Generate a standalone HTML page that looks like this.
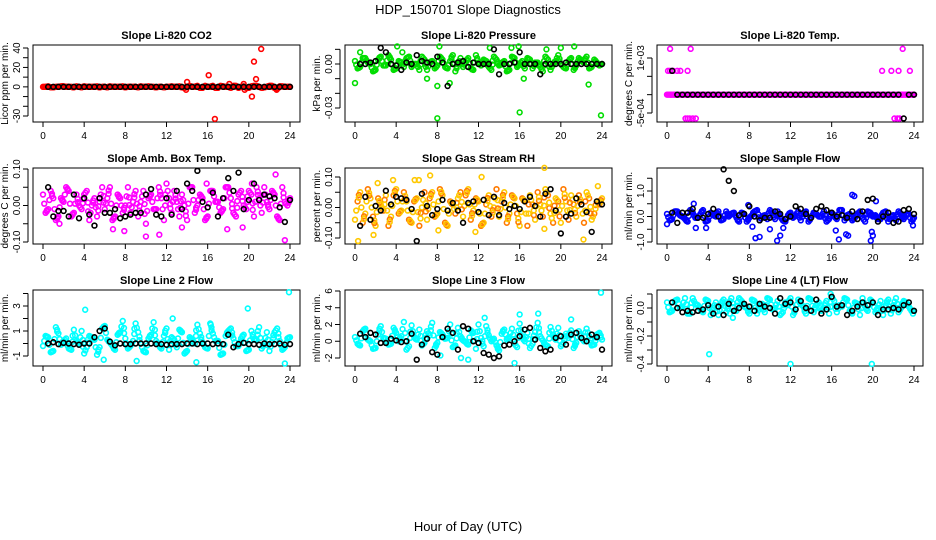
<!DOCTYPE html>
<html><head><meta charset="utf-8"><style>
html,body{margin:0;padding:0;background:#fff;}
svg{display:block;font-family:"Liberation Sans",sans-serif;}
</style></head><body>
<svg id="chart" width="936" height="540" viewBox="0 0 936 540" xmlns="http://www.w3.org/2000/svg">
<text x="468" y="14" text-anchor="middle" font-size="13">HDP_150701  Slope Diagnostics</text>
<text x="468" y="531" text-anchor="middle" font-size="13">Hour of Day (UTC)</text>
</svg>
<script>
// ---- data ----
const z49=[0,0,0,0,0,0,0,0,0,0,0,0,0,0,0,0,0,0,0,0,0,0,0,0,0,0,0,0,0,0,0,0,0,0,0,0,0,0,0,0,0,0,0,0,0,0,0,0,0];
const co2Main=[0,0.5,-0.5,0,0.5,0,-0.5,0,0.5,0,0,-0.5,0,0.5,0,0,-0.5,0,0,0.5,0,0,-0.5,0,0,0.5,0,-0.5,0,0,1,-1,0,1,-1,0.5,0,1,-1,0.5,-1,1,0,-0.5,1,-1,0.5,0,0];
const co2Alt=[0,-0.5,0,0.5,0,0,0.5,-0.5,0,0,0.5,0,-0.5,0,0,0.5,0,0,-0.5,0,0.5,0,0,-0.5,0,0,0.5,-1,1,0,-1,1,0,-1,1,0,-1,1,0,-1,0.5,1,-1,0,1,-2,0.5,0];
const co2OutT=[13.9,14.0,16.1,16.7,18.1,19.5,19.6,20.3,20.5,20.7,21.2,22.7];
const co2OutV=[-3,5,12,-33,3,3,-3,-10,26,8,39,-3];
const co2Black=z49.slice(1);

const presMain=[0.002,-0.002,0.004,0.000,-0.004,0.005,-0.001,0.003,-0.003,0.001,0.004,-0.002,0.000,0.005,-0.004,0.002,-0.001,0.003,-0.003,0.006,0.000,-0.002,0.004,-0.004,0.001,0.003,-0.002,0.005,-0.001,0.002,-0.004,0.004,0.000,-0.003,0.003,0.001,-0.002,0.005,-0.004,0.002,0.000,-0.003,0.004,-0.001,0.002,0.005,-0.002,0.001,0.000];
const presAlt=[-0.003,0.004,0.001,-0.005,0.003,-0.001,0.006,-0.004,0.002,-0.002,0.005,0.000,-0.004,0.003,0.001,-0.003,0.005,-0.002,0.002,-0.005,0.004,0.001,-0.003,0.006,-0.001,0.002,-0.004,0.003,0.000,-0.005,0.005,-0.002,0.002,0.004,-0.003,0.001,-0.005,0.003,0.000,0.006,-0.002,0.002,-0.004,0.004,0.001,-0.003,0.003,-0.001];
const presOutT=[0,0.5,4.1,4.6,7.0,8.0,8.0,8.2,9.2,13.1,15.2,15.9,16.0,16.4,18.6,20.0,21.3,22.7,23.9];
const presOutV=[-0.013,0.008,0.012,0.008,-0.010,-0.015,-0.037,0.012,-0.013,0.011,0.011,0.012,-0.033,-0.010,0.010,0.011,0.012,-0.014,-0.035];
const presBlack=[0.000,0.000,0.001,0.002,0.011,0.008,0.000,-0.001,-0.004,0.001,0.000,0.006,0.002,0.001,0.000,0.005,0.001,-0.015,0.000,0.001,0.002,-0.002,0.001,0.000,0.000,0.000,0.010,-0.007,0.000,0.000,0.001,0.008,0.000,0.000,0.000,-0.007,0.000,0.000,0.000,0.000,0.001,0.000,0.000,0.000,0.000,0.000,0.000,0.000];

const tempOutT=[0.3,2.3,22.9,0.1,0.3,0.6,1.0,1.3,2.0,20.9,21.8,22.5,23.6,1.8,2.0,2.2,2.5,2.8,22.1,22.4,22.6];
const tempOutV=[0.00125,0.00125,0.00125,0.00065,0.00065,0.00065,0.00065,0.00065,0.00065,0.00065,0.00065,0.00065,0.00065,-0.00065,-0.00065,-0.00065,-0.00065,-0.00065,-0.00065,-0.00065,-0.00065];
const tempBlack=[0.00065,0,0,0,0,0,0,0,0,0,0,0,0,0,0,0,0,0,0,0,0,0,0,0,0,0,0,0,0,0,0,0,0,0,0,0,0,0,0,0,0,0,0,0,0,-0.00065,0,0];

const boxMain=[0.03,-0.01,0.02,-0.03,0.01,0.04,-0.02,0.00,0.03,-0.04,0.02,0.01,-0.01,0.05,-0.03,0.02,0.00,-0.02,0.04,0.01,-0.05,0.03,-0.01,0.02,0.06,-0.02,0.01,0.03,-0.04,0.05,0.00,0.02,-0.03,0.04,0.01,-0.01,0.05,-0.02,0.03,0.00,0.04,-0.03,0.02,0.05,-0.01,0.03,-0.04,0.01,0.02];
const boxAlt=[-0.02,0.04,-0.04,0.02,0.05,-0.03,0.03,-0.01,0.04,0.00,-0.03,0.05,0.02,-0.04,0.03,-0.02,0.05,0.01,-0.03,0.04,0.02,-0.01,0.05,-0.04,0.02,0.04,-0.03,0.00,0.05,-0.02,0.03,-0.04,0.04,0.01,-0.02,0.05,0.02,-0.03,0.04,-0.01,0.03,0.05,-0.02,0.01,0.04,-0.03,0.05,0.00];
const boxOutT=[1.6,6.8,7.9,10,11.3,13.5,15.9,17.9,19.4,20.3,22.6,23.5];
const boxOutV=[-0.05,-0.065,-0.07,-0.085,-0.08,-0.06,0.06,-0.065,-0.06,0.06,0.085,-0.095];
const boxBlack=[0.05,-0.03,-0.015,-0.015,-0.03,0.03,-0.035,0.02,-0.025,-0.055,0.02,-0.02,-0.02,-0.01,-0.035,-0.03,-0.025,-0.02,-0.02,0.03,0.045,-0.025,-0.03,0.02,-0.025,0.04,-0.01,0.06,0.04,0.095,0.01,-0.005,0.035,-0.03,0.02,0.075,0.04,0.09,-0.01,0.015,0.06,0.015,0.03,0.025,0.02,-0.005,-0.045,0.015];

const rhMain=[-0.04,0.05,-0.02,0.03,-0.06,0.01,0.04,-0.03,0.06,-0.01,0.02,-0.05,0.03,0.00,-0.04,0.05,-0.02,0.04,-0.06,0.01,0.03,-0.03,0.06,-0.01,0.02,-0.05,0.04,0.00,-0.03,0.05,-0.02,0.03,-0.06,0.02,0.04,-0.04,0.01,0.06,-0.02,0.03,-0.05,0.02,0.04,-0.03,0.01,0.05,-0.04,0.02,0.03];
const rhAlt=[0.02,-0.05,0.06,-0.03,0.03,-0.01,-0.06,0.04,-0.02,0.05,-0.04,0.02,-0.06,0.05,0.03,-0.03,0.06,-0.05,0.02,-0.02,0.05,0.04,-0.04,0.03,-0.06,0.01,-0.03,0.06,0.02,-0.05,0.04,-0.02,0.03,-0.06,0.01,0.05,-0.03,0.04,-0.05,0.02,0.06,-0.04,0.01,0.04,-0.05,0.03,-0.02,0.01];
const rhOutT=[0.3,1.8,2.2,3.7,5.8,6.2,7.3,8.1,11.7,12.3,18.4,18.4,22.2,23.6];
const rhOutV=[-0.11,-0.09,0.08,0.09,0.09,0.09,0.105,-0.075,-0.08,0.1,0.13,-0.07,-0.105,0.07];
const rhBlack=[-0.06,0.035,-0.04,0.005,-0.01,0.055,0.01,0.035,0.03,0.025,-0.005,-0.11,0.045,0.005,-0.025,-0.005,0.025,-0.01,0.015,-0.01,-0.05,0.015,0.02,-0.015,0.025,-0.025,0.035,-0.025,0.015,-0.005,0.005,-0.005,0.02,0.035,0.005,-0.03,0.045,0.06,-0.01,-0.085,-0.03,-0.02,0.03,0.01,-0.015,-0.08,0.02,0.01];

const sfMain=[0.1,-0.1,0.2,0.0,-0.2,0.15,-0.05,0.25,-0.15,0.05,0.2,-0.1,0.0,0.15,-0.2,0.1,-0.05,0.2,-0.15,0.05,0.25,-0.1,0.0,-0.2,0.15,0.05,-0.15,0.2,-0.05,0.1,0.0,-0.2,0.15,-0.1,0.25,0.05,-0.15,0.1,-0.05,0.2,0.0,-0.1,0.15,-0.2,0.05,0.2,-0.1,0.1,-0.05];
const sfAlt=[-0.15,0.2,0.05,-0.1,0.25,-0.05,0.1,-0.2,0.15,0.0,-0.15,0.2,0.1,-0.05,0.15,-0.2,0.05,0.25,0.0,-0.1,0.15,0.2,-0.15,0.05,-0.05,0.2,0.1,-0.2,0.15,0.0,0.2,-0.1,0.05,0.25,-0.15,0.1,-0.05,0.2,-0.2,0.15,0.05,-0.1,0.2,0.0,-0.15,0.1,0.05,-0.2];
const sfOutT=[0,2.6,2.8,3.8,7.9,8.3,8.6,9.0,10.0,10.7,11.0,11.3,16.4,16.7,17.4,17.6,18.0,18.2,19.8,19.9,20.0,20.3,23.9];
const sfOutV=[-0.3,0.5,-0.45,-0.45,0.45,-0.4,-0.85,-0.8,-0.5,-0.95,-0.75,-0.45,-0.55,-0.9,-0.7,-0.75,0.85,0.8,-0.95,-0.6,-0.75,0.6,-0.35];
const sfBlack=[0.15,-0.25,0.15,0.15,0.3,-0.05,-0.05,0.1,0.3,0.0,1.85,1.4,1.0,0.05,0.1,0.4,0.0,-0.15,-0.05,-0.05,0.2,0.1,-0.1,0.0,0.4,0.3,0.1,-0.05,0.3,0.4,0.25,0.15,0.0,0.05,-0.05,0.2,-0.1,0.2,0.65,0.7,-0.2,0.0,0.15,-0.25,-0.2,0.25,0.3,0.1];

const l2Main=[-0.2,0.5,-0.6,0.8,0.2,-0.4,1.1,0.0,-0.8,0.6,0.3,-0.3,1.4,0.1,-0.5,0.9,0.4,-0.2,1.6,0.0,-0.7,0.7,0.2,-0.4,1.2,0.5,-0.3,0.9,-0.6,0.3,1.5,0.1,-0.4,0.8,0.2,-0.8,1.0,0.4,-0.2,0.7,-0.5,0.3,1.3,0.0,-0.6,0.9,0.2,-0.3,0.5];
const l2Alt=[0.6,-0.7,1.3,-0.1,0.4,-0.5,0.2,1.0,-0.3,0.5,-0.9,1.2,0.3,-0.2,0.7,1.8,-0.4,0.2,0.9,-0.6,0.4,1.7,-0.1,0.6,-0.5,0.3,1.1,-0.8,0.5,0.0,0.8,-0.3,1.6,0.2,-0.9,0.6,1.2,-0.2,0.4,-0.6,1.0,0.3,-0.4,0.9,0.1,1.2,-0.5,0.4];
const l2OutT=[4.1,5.9,9.1,12.6,14.9,16.3,19.9,23.5,23.9];
const l2OutV=[2.7,-1.3,-1.4,2.0,-1.5,1.5,2.8,-1.6,4.1];
const l2Black=[0.0,0.1,-0.05,0.05,0.0,-0.05,-0.1,0.0,0.0,0.5,1.0,1.2,0.15,-0.15,0.0,-0.05,-0.05,0.0,0.0,0.0,0.0,-0.05,-0.05,-0.1,-0.05,-0.05,-0.05,0.0,0.0,-0.05,0.0,0.0,-0.05,0.0,-0.05,0.7,-0.3,-0.05,0.05,-0.05,-0.05,-0.1,0.0,-0.05,-0.05,0.0,-0.1,-0.05];

const l3Main=[0.5,-0.5,1.5,0.0,-0.8,1.8,0.3,-0.3,1.0,0.6,-1.0,1.9,0.2,-0.5,1.2,2.2,-0.2,0.8,0.4,-0.7,1.6,0.1,-0.4,1.0,2.0,-0.6,0.7,0.3,-1.1,1.4,0.5,-0.3,2.1,0.0,-0.8,1.1,0.6,-0.4,1.7,0.2,-0.6,0.9,1.3,-0.2,0.4,1.5,-0.5,0.8,0.2];
const l3Alt=[-0.3,1.2,0.2,-0.9,0.8,0.4,-0.4,1.6,0.0,2.3,-0.6,0.5,1.4,-0.2,0.7,-0.8,1.1,0.3,2.0,-0.5,0.6,-0.1,1.3,-0.9,0.4,1.8,0.0,-0.5,0.9,0.2,1.5,-0.7,0.6,1.0,-0.3,2.2,0.1,-0.6,0.8,1.6,-0.2,0.4,-0.8,1.2,0.0,0.6,-0.4,1.0];
const l3OutT=[8.3,10.3,11.0,12.6,15.5,16.0,17.8,21.0,23.9];
const l3OutV=[-1.7,-2.0,-2.2,2.8,-2.6,3.2,3.3,2.6,5.8];
const l3Black=[0.9,0.5,1.0,0.8,-0.2,-0.2,0.3,0.1,-0.1,0.0,0.9,-2.2,-0.4,0.3,-1.3,-1.6,0.5,1.5,1.0,-1.0,1.8,1.5,0.0,-0.2,-1.4,-1.6,-2.0,-1.8,-0.5,-0.4,0.0,0.6,1.4,1.6,0.2,-0.8,-1.2,-1.0,0.4,0.6,-0.4,0.8,1.0,0.4,0.0,0.8,0.5,-1.0];

const l4Main=[0.04,-0.02,0.06,0.01,-0.04,0.07,0.02,-0.03,0.05,0.00,-0.05,0.06,0.03,-0.02,0.07,0.01,-0.04,0.05,0.02,-0.03,0.06,0.00,-0.05,0.04,0.07,-0.01,0.03,-0.04,0.06,0.02,-0.02,0.05,0.08,-0.03,0.01,0.06,-0.04,0.03,0.07,-0.02,0.04,0.00,-0.05,0.06,0.02,-0.03,0.05,0.01,-0.02];
const l4Alt=[-0.03,0.05,0.00,0.07,-0.04,0.03,-0.01,0.06,-0.05,0.04,0.02,-0.03,0.07,-0.02,0.05,0.00,0.06,-0.04,0.03,0.07,-0.01,0.05,-0.03,0.02,-0.05,0.06,0.01,0.07,-0.03,0.04,0.00,-0.04,0.05,0.02,0.07,-0.02,0.04,-0.05,0.01,0.06,-0.03,0.05,0.02,-0.04,0.07,0.00,0.04,-0.02];
const l4OutT=[4.1,6.1,6.4,12.0,15.9,19.9,23.9];
const l4OutV=[-0.33,-0.04,-0.07,-0.40,0.1,-0.40,-0.04];
const l4Black=[0.04,0.0,-0.03,-0.02,-0.03,-0.02,-0.01,0.02,-0.04,0.01,-0.05,0.03,-0.02,0.0,0.03,0.01,-0.02,0.03,0.01,0.0,-0.04,0.07,0.03,0.04,-0.01,0.05,0.0,-0.02,0.06,-0.04,-0.01,0.08,0.01,0.02,-0.05,-0.02,0.01,0.04,0.02,0.04,-0.05,-0.01,-0.01,0.0,-0.01,0.02,0.04,-0.02];

const xTicks=[0,4,8,12,16,20,24];

// ---- layout ----
const NS="http://www.w3.org/2000/svg";
const svg=document.getElementById('chart');
const cols=[{l:33,r:300,x0:43,x24:290},{l:345,r:612,x0:355,x24:602},{l:657,r:923,x0:667,x24:914}];
const rows=[{t:45,b:122},{t:168,b:244},{t:290,b:366}];
const panels=[
 {key:'co2',title:'Slope Li-820 CO2',ylab:'Licor ppm per min.',c:0,r:0,vA:40,pA:48,vB:-30,pB:116,ticks:[-30,-20,-10,0,10,20,30,40],lbl:{'40':'40','20':'20','0':'0','-30':'-30'},color:'#ff0000',main:co2Main,alt:co2Alt,ot:co2OutT,ov:co2OutV,black:co2Black},
 {key:'pressure',title:'Slope Li-820 Pressure',ylab:'kPa per min.',c:1,r:0,vA:0,pA:64,vB:-0.03,pB:108,ticks:[0.01,0,-0.01,-0.02,-0.03],lbl:{'0':'0.00','-0.03':'-0.03'},color:'#00dd00',main:presMain,alt:presAlt,ot:presOutT,ov:presOutV,black:presBlack},
 {key:'li-temp',title:'Slope Li-820 Temp.',ylab:'degrees C  per min.',c:2,r:0,vA:0.001,pA:58,vB:-0.0005,pB:113,ticks:[0.001,0.0005,0,-0.0005],lbl:{'0.001':'1e-03','-0.0005':'-5e-04'},color:'#ff00ff',main:z49,alt:z49.slice(1),ot:tempOutT,ov:tempOutV,black:tempBlack},
 {key:'amb-box-temp',title:'Slope Amb. Box Temp.',ylab:'degrees C per min.',c:0,r:1,vA:0.1,pA:169,vB:-0.1,pB:242,ticks:[0.1,0.05,0,-0.05,-0.1],lbl:{'0.1':'0.10','0':'0.00','-0.1':'-0.10'},color:'#ff00ff',main:boxMain,alt:boxAlt,ot:boxOutT,ov:boxOutV,black:boxBlack},
 {key:'gas-rh',title:'Slope Gas Stream RH',ylab:'percent per min.',c:1,r:1,vA:0.1,pA:177,vB:-0.1,pB:238,ticks:[0.1,0.05,0,-0.05,-0.1],lbl:{'0.1':'0.10','0':'0.00','-0.1':'-0.10'},color:'#ffc800',color2:'#ff7a00',main:rhMain,alt:rhAlt,ot:rhOutT,ov:rhOutV,black:rhBlack},
 {key:'sample-flow',title:'Slope Sample Flow',ylab:'ml/min per min.',c:2,r:1,vA:1,pA:191,vB:-1,pB:242,ticks:[1.5,1,0.5,0,-0.5,-1],lbl:{'1':'1.0','0':'0.0','-1':'-1.0'},color:'#0000ff',main:sfMain,alt:sfAlt,ot:sfOutT,ov:sfOutV,black:sfBlack},
 {key:'line2-flow',title:'Slope Line 2 Flow',ylab:'ml/min per min.',c:0,r:2,vA:3,pA:306,vB:-1,pB:356,ticks:[4,3,2,1,0,-1],lbl:{'3':'3','1':'1','-1':'-1'},color:'#00ffff',main:l2Main,alt:l2Alt,ot:l2OutT,ov:l2OutV,black:l2Black},
 {key:'line3-flow',title:'Slope Line 3 Flow',ylab:'ml/min per min.',c:1,r:2,vA:6,pA:291,vB:-2,pB:358,ticks:[6,4,2,0,-2],lbl:{'6':'6','4':'4','2':'2','0':'0','-2':'-2'},color:'#00ffff',main:l3Main,alt:l3Alt,ot:l3OutT,ov:l3OutV,black:l3Black},
 {key:'line4-flow',title:'Slope Line 4 (LT) Flow',ylab:'ml/min per min.',c:2,r:2,vA:0,pA:308,vB:-0.4,pB:364,ticks:[0.1,0,-0.1,-0.2,-0.3,-0.4],lbl:{'0':'0.0','-0.2':'-0.2','-0.4':'-0.4'},color:'#00ffff',main:l4Main,alt:l4Alt,ot:l4OutT,ov:l4OutV,black:l4Black}
];

function mk(tag,attrs,parent){const e=document.createElementNS(NS,tag);for(const k in attrs)e.setAttribute(k,attrs[k]);(parent||svg).appendChild(e);return e;}

panels.forEach(p=>{
 const C=cols[p.c],R=rows[p.r];
 const xs=t=>C.x0+(C.x24-C.x0)*t/24;
 const ys=v=>p.pA+(p.pB-p.pA)*(v-p.vA)/(p.vB-p.vA);
 const g=mk('g',{});
 
 
 const ti=mk('text',{x:(C.l+C.r)/2,y:R.t-6,'text-anchor':'middle','font-size':'11','font-weight':'bold'},g);
 ti.textContent=p.title;
 
 
 const bx=mk('rect',{x:C.l,y:R.t,width:C.r-C.l,height:R.b-R.t,fill:'none',stroke:'#000','stroke-width':1},g);
 
 
 const xa=mk('g',{},g);
 
 
 xTicks.forEach(t=>{
  mk('line',{x1:xs(t),x2:xs(t),y1:R.b,y2:R.b+5,stroke:'#000'},xa);
  const tx=mk('text',{x:xs(t),y:R.b+17,'text-anchor':'middle','font-size':'10'},xa);
  tx.textContent=t;
  
  
 });
 const ya=mk('g',{},g);
 
 
 const yv=p.ticks.map(ys);
 mk('line',{x1:C.l-5,x2:C.l-5,y1:Math.min(...yv),y2:Math.max(...yv),stroke:'#000'},ya);
 p.ticks.forEach(v=>{
  const y=ys(v);
  mk('line',{x1:C.l-5,x2:C.l-10,y1:y,y2:y,stroke:'#000'},ya);
  const s=p.lbl[String(v)];
  if(s){
   const tx=mk('text',{x:C.l-13,y:y,'text-anchor':'middle','font-size':'10',transform:`rotate(-90 ${C.l-13} ${y})`},ya);
   tx.textContent=s;
   
   
  }
 });
 const yl=mk('text',{x:C.l-25,y:(R.t+R.b)/2,'text-anchor':'middle','font-size':'10',transform:`rotate(-90 ${C.l-25} ${(R.t+R.b)/2})`},g);
 yl.textContent=p.ylab;
 
 
 const pts=mk('g',{fill:'none','stroke-width':1.6},g);
 
 
 function dot(t,v,col){
  const c=mk('circle',{cx:xs(t),cy:ys(v),r:2.4,stroke:col},pts);
  
  
 }
 p.main.forEach((v,i)=>dot(i*0.5,v,p.color));
 p.alt.forEach((v,i)=>dot(i*0.5+0.25,v,p.color2||p.color));
 p.main.forEach((v,i)=>{ if(i<p.alt.length) dot(i*0.5+0.12,(v+p.alt[i])/2,p.color); });
 p.main.forEach((v,i)=>{ if(i>0) dot(i*0.5-0.12,(v*0.7+p.alt[i-1]*0.3),p.color2||p.color); });
 p.alt.forEach((v,i)=>{ if(i+1<p.main.length) dot(i*0.5+0.37,(v*0.6+p.main[i+1]*0.4),p.color); });
 p.ot.forEach((t,i)=>dot(t,p.ov[i],p.color));
 p.black.forEach((v,i)=>dot(0.5+i*0.5,v,'#000'));
});
</script>
</body></html>
